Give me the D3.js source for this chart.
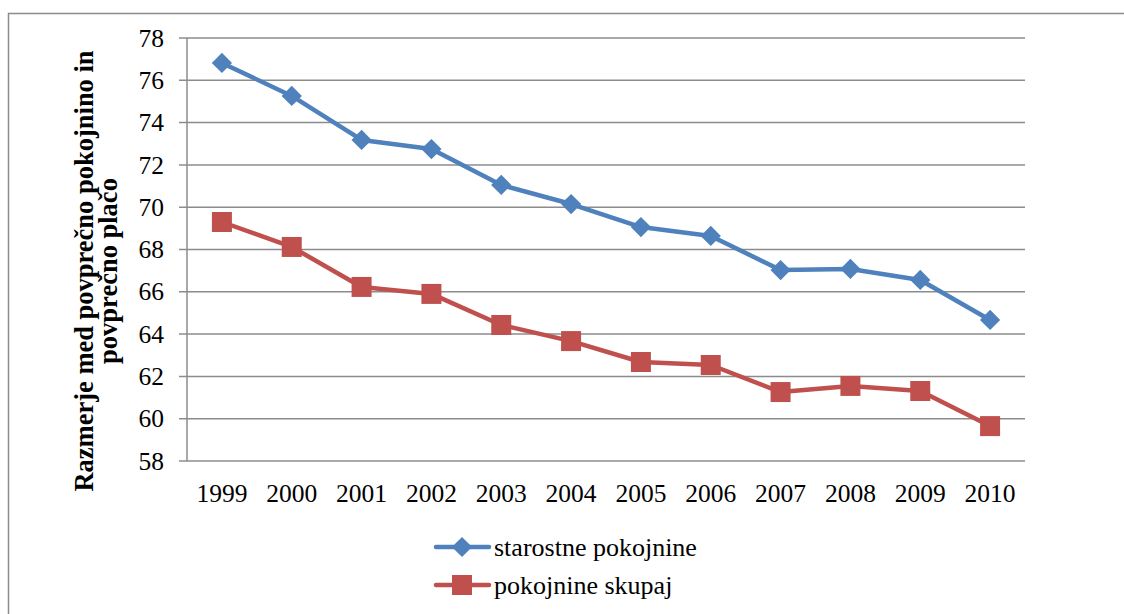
<!DOCTYPE html>
<html><head><meta charset="utf-8">
<script src="https://d3js.org/d3.v7.min.js"></script>
<style>body{margin:0;background:#fff}svg{display:block}</style>
</head><body><svg id="c" width="1124" height="614" font-family="'Liberation Serif', 'Times New Roman', 'DejaVu Serif', serif"></svg>
<script>
const years = ["1999","2000","2001","2002","2003","2004","2005","2006","2007","2008","2009","2010"];
const starostne = [76.82,75.26,73.18,72.75,71.05,70.15,69.06,68.64,67.03,67.08,66.56,64.67];
const skupaj = [69.30,68.12,66.23,65.90,64.43,63.67,62.68,62.54,61.26,61.55,61.31,59.65];
const yTicks = [58,60,62,64,66,68,70,72,74,76,78];
const seriesNames = ["starostne pokojnine","pokojnine skupaj"];
const colors = ["#4F81BD","#C0504D"];

const svg = d3.select("#c");
svg.append("path").attr("d","M8.5,614 L8.5,13.5 L1124,13.5").attr("fill","none").attr("stroke","#8c8c8c").attr("stroke-width",1.5);

const x = d3.scaleBand().domain(years).range([187,1025]);
const y = d3.scaleLinear().domain([58,78]).range([461,38]);

svg.append("g").selectAll("line").data(yTicks).join("line")
  .attr("x1",179).attr("x2",1025).attr("y1",d=>y(d)).attr("y2",d=>y(d))
  .attr("stroke","#8c8c8c").attr("stroke-width",1.5);
svg.append("line").attr("x1",187).attr("x2",187).attr("y1",38).attr("y2",461).attr("stroke","#8c8c8c").attr("stroke-width",1.5);

svg.append("g").selectAll("text").data(yTicks).join("text")
  .attr("x",164).attr("y",d=>y(d)).attr("dy","0.34em").attr("text-anchor","end")
  .attr("font-size",25.5).attr("fill","#000").text(d=>d);
svg.append("g").selectAll("text").data(years).join("text")
  .attr("x",d=>x(d)+x.bandwidth()/2).attr("y",502).attr("text-anchor","middle")
  .attr("font-size",25.5).attr("fill","#000").text(d=>d);

const t = svg.append("text").attr("transform","translate(0,271) rotate(-90)").attr("text-anchor","middle")
  .attr("font-size",26.5).attr("font-weight","bold").attr("fill","#000");
t.append("tspan").attr("x",0).attr("y",93).text("Razmerje med povprečno pokojnino in");
t.append("tspan").attr("x",0).attr("y",117).text("povprečno plačo");

const line = d3.line().x((d,i)=>x(years[i])+x.bandwidth()/2).y(d=>y(d));
[starostne, skupaj].forEach((vals,k)=>{
  svg.append("path").attr("d",line(vals)).attr("fill","none").attr("stroke",colors[k]).attr("stroke-width",4.5).attr("stroke-linejoin","round");
});
const diamondPath = d3.symbol().type(d3.symbolSquare).size(205)();
const squarePath = d3.symbol().type(d3.symbolSquare).size(400)();
svg.append("g").selectAll("path").data(starostne).join("path")
  .attr("d",diamondPath).attr("transform",(d,i)=>`translate(${x(years[i])+x.bandwidth()/2},${y(d)}) rotate(45)`)
  .attr("fill",colors[0]);
svg.append("g").selectAll("path").data(skupaj).join("path")
  .attr("transform",(d,i)=>`translate(${x(years[i])+x.bandwidth()/2},${y(d)})`)
  .attr("d",squarePath).attr("fill",colors[1]);

const lg = svg.append("g");
seriesNames.forEach((n,k)=>{
  const ly = 547 + k*38;
  lg.append("line").attr("x1",436).attr("x2",489).attr("y1",ly).attr("y2",ly).attr("stroke",colors[k]).attr("stroke-width",4.5).attr("stroke-linecap","round");
  if(k===0) lg.append("path").attr("d",diamondPath).attr("transform",`translate(462,${ly}) rotate(45)`).attr("fill",colors[0]);
  else lg.append("path").attr("d",squarePath).attr("transform",`translate(462,${ly})`).attr("fill",colors[1]);
  lg.append("text").attr("x",494).attr("y",ly).attr("dy","0.33em").attr("font-size",26).attr("fill","#000").text(n);
});
</script></body></html>
